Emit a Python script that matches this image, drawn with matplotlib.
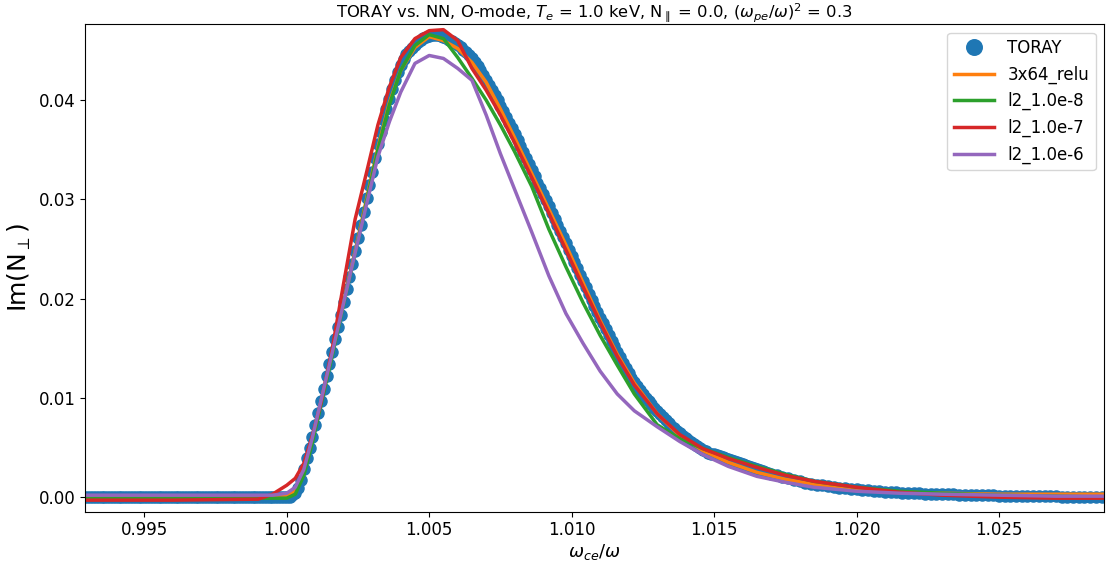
import numpy as np
import matplotlib
matplotlib.use("Agg")
import matplotlib.pyplot as plt


def grid(start, stop, step):
    return np.round(np.arange(start, stop + step / 2, step), 4)


# TORAY reference, sampled finely
toray_x = np.concatenate([
    grid(0.9929, 0.9999, 0.0001),
    grid(1.0000, 1.0170, 0.0001),
    grid(1.0172, 1.0288, 0.0002),
])
toray_flat = [0.0] * 71
toray_peak = [
    0.0000, 0.0000, 0.0002, 0.0004, 0.0009, 0.0017, 0.0028, 0.0039, 0.0050, 0.0061,
    0.0073, 0.0085, 0.0097, 0.0109, 0.0122, 0.0134, 0.0146, 0.0159, 0.0171, 0.0184,
    0.0197, 0.0210, 0.0222, 0.0235, 0.0248, 0.0261, 0.0274, 0.0287, 0.0301, 0.0315,
    0.0328, 0.0342, 0.0356, 0.0368, 0.0380, 0.0391, 0.0401, 0.0411, 0.0420, 0.0428,
    0.0435, 0.0441, 0.0446, 0.0450, 0.0453, 0.0456, 0.0459, 0.0461, 0.0463, 0.0464,
    0.0465, 0.0466, 0.0466, 0.0466, 0.0465, 0.0464, 0.0463, 0.0461, 0.0460, 0.0458,
    0.0456,
]
toray_fall = [
    0.0454, 0.0451, 0.0448, 0.0445, 0.0442, 0.0438, 0.0434, 0.0430, 0.0425, 0.0420,
    0.0415, 0.0410, 0.0405, 0.0400, 0.0394, 0.0389, 0.0383, 0.0377, 0.0372, 0.0366,
    0.0360, 0.0354, 0.0348, 0.0342, 0.0336, 0.0330, 0.0324, 0.0317, 0.0311, 0.0305,
    0.0299, 0.0293, 0.0286, 0.0280, 0.0274, 0.0268, 0.0262, 0.0256, 0.0249, 0.0243,
    0.0237, 0.0231, 0.0224, 0.0218, 0.0212, 0.0205, 0.0199, 0.0193, 0.0187, 0.0181,
    0.0175, 0.0169, 0.0163, 0.0157, 0.0152, 0.0146, 0.0141, 0.0135, 0.0130, 0.0125,
    0.0120, 0.0116, 0.0112, 0.0108, 0.0104, 0.0100, 0.0097, 0.0094, 0.0090, 0.0087,
    0.0084, 0.0081, 0.0078, 0.0075, 0.0072, 0.0070, 0.0067, 0.0065, 0.0062, 0.0060,
    0.0058, 0.0056, 0.0054, 0.0052, 0.0050, 0.0048, 0.0047, 0.0045, 0.0044, 0.0043,
    0.0042, 0.0041, 0.0040, 0.0039, 0.0038, 0.0037, 0.0036, 0.0035, 0.0034, 0.0033,
    0.0032, 0.0031, 0.0030, 0.0029, 0.0028, 0.0027, 0.0026, 0.0025, 0.0024, 0.0023,
]
toray_tail = [
    0.0022, 0.0020, 0.0019, 0.0017, 0.0016, 0.0014, 0.0013, 0.0012, 0.0012, 0.0011,
    0.0010, 0.0009, 0.0009, 0.0008, 0.0008, 0.0007, 0.0007, 0.0006, 0.0006, 0.0005,
    0.0005, 0.0005, 0.0004, 0.0004, 0.0004, 0.0004, 0.0003, 0.0003, 0.0003, 0.0003,
    0.0003, 0.0003, 0.0002, 0.0002, 0.0002, 0.0002, 0.0002, 0.0002, 0.0002, 0.0001,
    0.0001, 0.0001, 0.0001, 0.0001, 0.0001, 0.0001, 0.0001, 0.0001, 0.0001, 0.0001,
    0.0000, 0.0000, 0.0000, 0.0000, 0.0000, 0.0000, 0.0000, 0.0000, 0.0000,
]
toray_y = toray_flat + toray_peak + toray_fall + toray_tail

# NN predictions on a coarser grid
nn_x = [0.9930, 0.9960, 0.9990, 0.9995, 1.0000, 1.0003, 1.0006, 1.0009, 1.0012,
        1.0016, 1.0020, 1.0024, 1.0028, 1.0032, 1.0036, 1.0040, 1.0045, 1.0050,
        1.0055, 1.0060, 1.0065, 1.0070, 1.0075, 1.0080, 1.0086, 1.0092, 1.0098,
        1.0104, 1.0110, 1.0116, 1.0122, 1.0130, 1.0138, 1.0146, 1.0155, 1.0165,
        1.0175, 1.0185, 1.0200, 1.0215, 1.0230, 1.0250, 1.0270, 1.0290]

relu_3x64 = [0.0000, 0.0000, 0.0000, 0.0000, 0.0001, 0.0006, 0.0028, 0.0060, 0.0096,
             0.0146, 0.0197, 0.0248, 0.0300, 0.0352, 0.0397, 0.0430, 0.0453, 0.0464,
             0.0460, 0.0452, 0.0438, 0.0418, 0.0391, 0.0362, 0.0326, 0.0290, 0.0254,
             0.0216, 0.0178, 0.0144, 0.0115, 0.0084, 0.0062, 0.0047, 0.0035, 0.0025,
             0.0018, 0.0013, 0.0008, 0.0005, 0.0004, 0.0003, 0.0003, 0.0003]

l2_1e8 = [-0.0001, -0.0001, -0.0001, -0.0001, -0.0001, 0.0003, 0.0022, 0.0055, 0.0093,
          0.0143, 0.0195, 0.0246, 0.0298, 0.0350, 0.0395, 0.0430, 0.0455, 0.0466,
          0.0462, 0.0443, 0.0422, 0.0400, 0.0375, 0.0348, 0.0313, 0.0270, 0.0232,
          0.0196, 0.0163, 0.0133, 0.0104, 0.0073, 0.0059, 0.0049, 0.0040, 0.0031,
          0.0023, 0.0016, 0.0010, 0.0006, 0.0004, 0.0002, 0.0001, 0.0000]

l2_1e7 = [-0.0003, -0.0003, -0.0002, 0.0003, 0.0012, 0.0019, 0.0034, 0.0062, 0.0095,
          0.0150, 0.0216, 0.0280, 0.0327, 0.0375, 0.0413, 0.0443, 0.0462, 0.0470,
          0.0471, 0.0460, 0.0432, 0.0410, 0.0385, 0.0357, 0.0322, 0.0286, 0.0249,
          0.0212, 0.0176, 0.0142, 0.0113, 0.0084, 0.0063, 0.0049, 0.0039, 0.0030,
          0.0022, 0.0016, 0.0010, 0.0005, 0.0002, 0.0000, -0.0001, -0.0001]

l2_1e6 = [0.0002, 0.0002, 0.0002, 0.0002, 0.0004, 0.0010, 0.0028, 0.0060, 0.0097,
          0.0146, 0.0196, 0.0246, 0.0295, 0.0343, 0.0378, 0.0408, 0.0437, 0.0445,
          0.0442, 0.0432, 0.0420, 0.0385, 0.0346, 0.0310, 0.0267, 0.0223, 0.0185,
          0.0155, 0.0127, 0.0104, 0.0087, 0.0071, 0.0056, 0.0043, 0.0031, 0.0021,
          0.0015, 0.0010, 0.0006, 0.0004, 0.0003, 0.0002, 0.0001, 0.0001]

models = [
    ("3x64_relu", relu_3x64, "tab:orange"),
    ("l2_1.0e-8", l2_1e8, "tab:green"),
    ("l2_1.0e-7", l2_1e7, "tab:red"),
    ("l2_1.0e-6", l2_1e6, "tab:purple"),
]

fig = plt.figure(figsize=(11.08, 5.63), dpi=100)
ax = fig.add_axes([0.077, 0.091, 0.9195, 0.866])

ax.plot(toray_x, toray_y, "o", color="tab:blue", ms=8, label="TORAY")
for name, vals, col in models:
    ax.plot(nn_x, vals, "-", color=col, lw=2.5, label=name)

ax.set_xlim(0.99293, 1.02869)
ax.set_ylim(-0.00147, 0.04765)
ax.set_xticks([0.995, 1.000, 1.005, 1.010, 1.015, 1.020, 1.025])
ax.set_yticks([0.00, 0.01, 0.02, 0.03, 0.04])
ax.tick_params(labelsize=12)

ax.set_xlabel(r"$\omega_{ce}/\omega$", fontsize=13, labelpad=2)
ax.set_ylabel(r"Im(N$_\perp$)", fontsize=18)
ax.set_title(r"TORAY vs. NN, O-mode, $T_e$ = 1.0 keV, N$_\parallel$ = 0.0, "
             r"$(\omega_{pe}/\omega)^2$ = 0.3", fontsize=11.8, pad=0.5)

ax.legend(loc="upper right", fontsize=12, markerscale=1.4, handlelength=2.4)

fig.savefig("out.png", dpi=100)
